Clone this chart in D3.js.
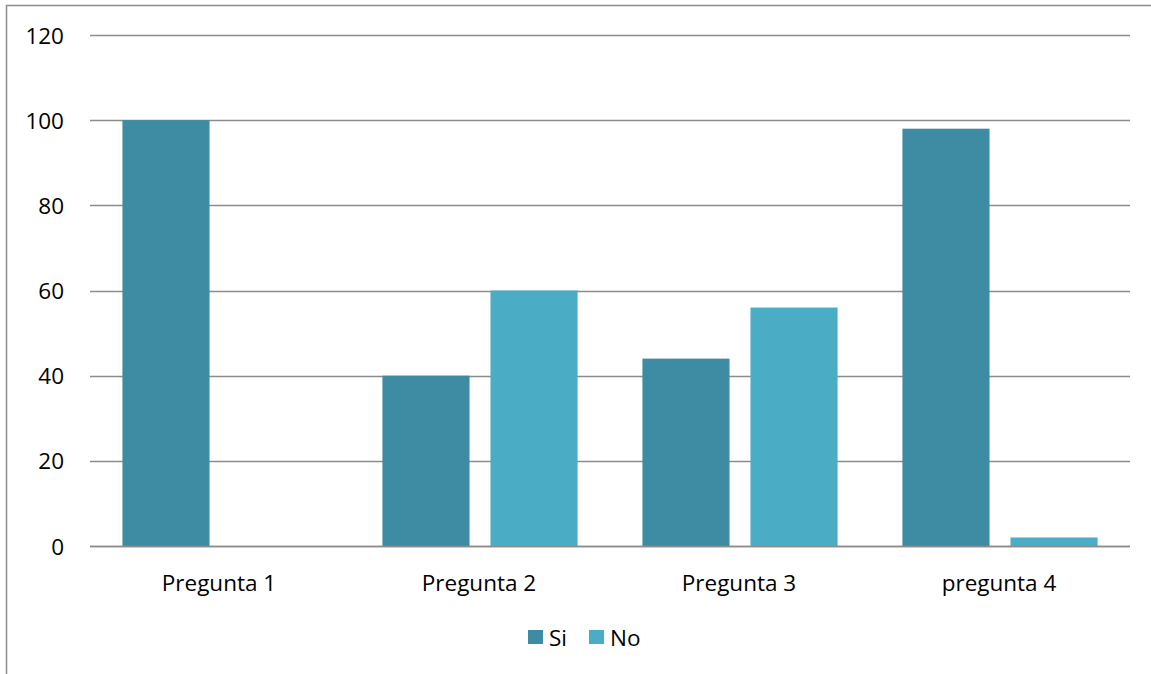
<!DOCTYPE html>
<html>
<head>
<meta charset="utf-8">
<script src="https://cdn.jsdelivr.net/npm/d3@7"></script>
<style>
  html, body { margin: 0; padding: 0; background: #fff; }
  svg { display: block; }
  text { font-family: "Open Sans", "Noto Sans", sans-serif; fill: #000; }
</style>
</head>
<body>
<svg id="chart" width="1151" height="674"></svg>
<script>
// Survey answers per question (percent)
const categories = ["Pregunta 1", "Pregunta 2", "Pregunta 3", "pregunta 4"];
const seriesNames = ["Si", "No"];
const siValues = [100, 40, 44, 98];
const noValues = [0, 60, 56, 2];
const yTicks = [0, 20, 40, 60, 80, 100, 120];
const colors = ["#3d8ca3", "#4bacc6"];

const svg = d3.select("#chart");
const W = 1151, H = 674;
const fontSize = "22.5px";

// outer chart frame
svg.append("rect")
  .attr("x", 6.5).attr("y", 5.5)
  .attr("width", W + 10).attr("height", H + 10)
  .attr("fill", "none").attr("stroke", "#8c8c8c").attr("stroke-width", 1.5);

const plot = { left: 90, right: 1130, top: 35, bottom: 546 };

const x0 = d3.scaleBand().domain(categories).range([plot.left, plot.right]).padding(0);
const x1 = d3.scaleBand().domain(seriesNames).range([0, x0.bandwidth()])
  .paddingInner(0.194).paddingOuter(0.30);
const y = d3.scaleLinear().domain([0, 120]).range([plot.bottom, plot.top]);

// gridlines
svg.append("g").selectAll("line").data(yTicks).join("line")
  .attr("x1", plot.left).attr("x2", plot.right)
  .attr("y1", d => Math.round(y(d)) + 0.5).attr("y2", d => Math.round(y(d)) + 0.5)
  .attr("stroke", "#8c8c8c").attr("stroke-width", 1.5);

// y tick labels
svg.append("g").selectAll("text").data(yTicks).join("text")
  .attr("x", 64).attr("y", d => y(d))
  .attr("text-anchor", "end").attr("dominant-baseline", "central")
  .style("font-size", fontSize)
  .text(d => d);

// bars
const rows = categories.map((c, i) => ({ cat: c, vals: [siValues[i], noValues[i]] }));
const groups = svg.append("g").selectAll("g").data(rows).join("g")
  .attr("transform", d => `translate(${x0(d.cat)},0)`);
groups.selectAll("rect")
  .data(d => d.vals.map((v, j) => ({ key: seriesNames[j], v, j })))
  .join("rect")
  .attr("x", d => x1(d.key))
  .attr("width", x1.bandwidth())
  .attr("y", d => y(d.v))
  .attr("height", d => y(0) - y(d.v))
  .attr("fill", d => colors[d.j]);

// baseline drawn over bars
svg.append("line")
  .attr("x1", plot.left).attr("x2", plot.right)
  .attr("y1", Math.round(y(0)) + 0.5).attr("y2", Math.round(y(0)) + 0.5)
  .attr("stroke", "#8c8c8c").attr("stroke-width", 1.5);

// category labels
svg.append("g").selectAll("text").data(categories).join("text")
  .attr("x", d => x0(d) + x0.bandwidth() / 2 - 1)
  .attr("y", 582)
  .attr("text-anchor", "middle").attr("dominant-baseline", "central")
  .style("font-size", fontSize)
  .text(d => d);

// legend
const legendItems = [
  { name: seriesNames[0], color: colors[0], x: 528 },
  { name: seriesNames[1], color: colors[1], x: 589 }
];
const lg = svg.append("g").selectAll("g").data(legendItems).join("g")
  .attr("transform", d => `translate(${d.x},630)`);
lg.append("rect").attr("width", 15).attr("height", 14).attr("fill", d => d.color);
lg.append("text").attr("x", 21).attr("y", 7)
  .attr("dominant-baseline", "central")
  .style("font-size", fontSize)
  .text(d => d.name);
</script>
</body>
</html>
